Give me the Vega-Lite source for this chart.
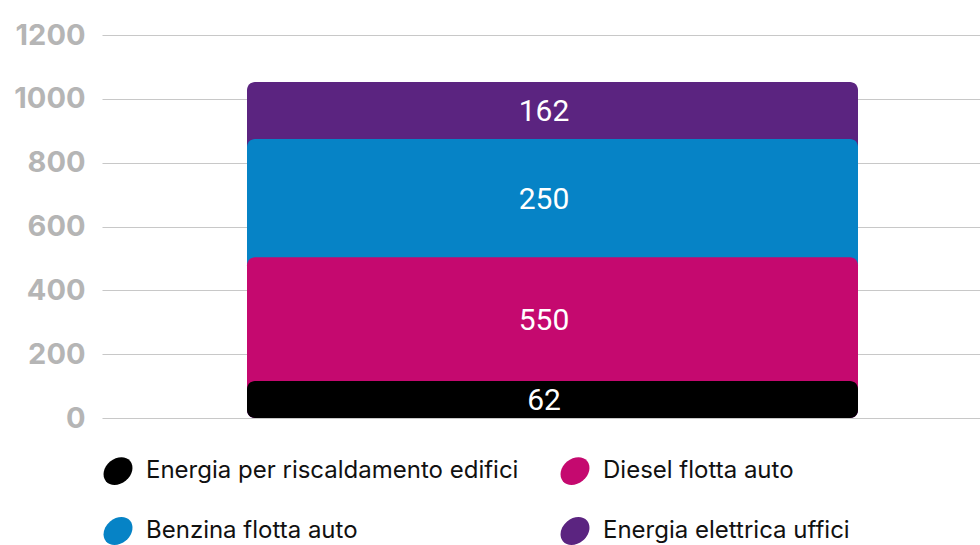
{
  "$schema": "https://vega.github.io/schema/vega-lite/v6.json",
  "width": 878,
  "height": 383,
  "autosize": {"type": "none"},
  "padding": {"left": 102, "top": 35, "right": 0, "bottom": 127},
  "background": "#ffffff",
  "data": {
    "values": [
      {"gruppo": "Emissioni", "voce": "Energia elettrica uffici", "valore": 162, "fine": 1053, "inizio": 874},
      {"gruppo": "Emissioni", "voce": "Benzina flotta auto", "valore": 250, "fine": 874, "inizio": 504},
      {"gruppo": "Emissioni", "voce": "Diesel flotta auto", "valore": 550, "fine": 504, "inizio": 116},
      {"gruppo": "Emissioni", "voce": "Energia per riscaldamento edifici", "valore": 62, "fine": 116, "inizio": 0}
    ]
  },
  "config": {
    "view": {"stroke": null},
    "font": "Roboto"
  },
  "encoding": {
    "x": {
      "field": "gruppo",
      "type": "nominal",
      "axis": null,
      "scale": {"paddingInner": 0, "paddingOuter": 0}
    }
  },
  "layer": [
    {
      "mark": {"type": "bar", "cornerRadius": 8, "width": 611, "xOffset": 11.5},
      "encoding": {
        "y": {
          "field": "fine",
          "type": "quantitative",
          "scale": {"domain": [0, 1200], "nice": false},
          "axis": {
            "title": null,
            "values": [0, 200, 400, 600, 800, 1000, 1200],
            "format": "d",
            "domain": false,
            "ticks": false,
            "labelPadding": 17,
            "labelFont": "Inter",
            "labelFontWeight": "bold",
            "labelFontSize": 29,
            "labelColor": "#b5b5b5",
            "gridColor": "#c8c8c8",
            "gridWidth": 1.2
          }
        },
        "y2": {"datum": 0},
        "color": {
          "field": "voce",
          "type": "nominal",
          "scale": {
            "domain": ["Energia per riscaldamento edifici", "Diesel flotta auto", "Benzina flotta auto", "Energia elettrica uffici"],
            "range": ["#000000", "#c5096f", "#0683c6", "#5b2480"]
          },
          "legend": {
            "title": null,
            "orient": "none",
            "legendX": 0,
            "legendY": 420,
            "direction": "horizontal",
            "columns": 2,
            "columnPadding": 40,
            "rowPadding": 30,
            "symbolType": "M-0.766,0.643A1,0.78,-40,0,1,0.766,-0.643A1,0.78,-40,0,1,-0.766,0.643Z",
            "symbolSize": 1000,
            "symbolOpacity": 1,
            "symbolStrokeWidth": 0,
            "labelFont": "Inter",
            "labelFontSize": 24,
            "labelColor": "#111111",
            "labelOffset": 12,
            "labelLimit": 0
          }
        }
      }
    },
    {
      "mark": {
        "type": "text",
        "color": "#ffffff",
        "fontSize": 30,
        "font": "Roboto",
        "baseline": "middle",
        "align": "center",
        "xOffset": 3,
        "dy": {"expr": "(scale('y', datum.inizio) - scale('y', datum.fine)) / 2 + 2"}
      },
      "encoding": {
        "y": {"field": "fine", "type": "quantitative"},
        "text": {"field": "valore", "type": "quantitative"}
      }
    }
  ]
}
